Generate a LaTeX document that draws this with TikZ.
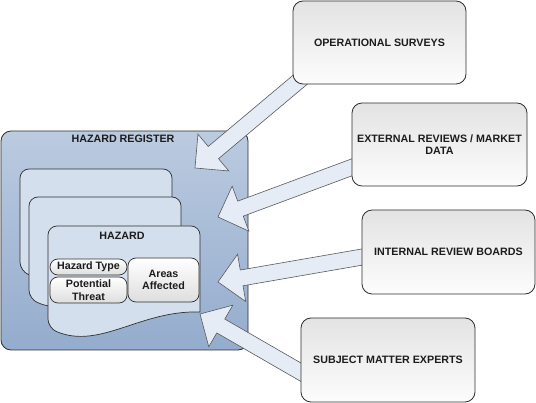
\documentclass[tikz,border=0pt]{standalone}
\usepackage{fontspec}
\setmainfont{Liberation Sans}
\usetikzlibrary{calc}
\definecolor{regtop}{HTML}{BBCBE0}
\definecolor{regbot}{HTML}{94ACCD}
\definecolor{cardfill}{HTML}{D4DFED}
\definecolor{arrfill}{HTML}{E5ECF6}
\definecolor{txt}{HTML}{1C1C1C}
\definecolor{edge}{HTML}{2E2E2E}
\pgfdeclarelayer{back}
\pgfdeclarelayer{mid}
\pgfsetlayers{back,mid,main}
\newcommand\blockarr[3]{%
  \coordinate (#1h) at ($(#3)!24pt!(#2)$);
  \draw[blockarrow] ($(#2)!8pt!90:(#3)$) -- ($(#1h)!8pt!90:(#3)$) -- ($(#1h)!24pt!90:(#3)$) -- (#3)
    -- ($(#1h)!24pt!-90:(#3)$) -- ($(#1h)!8pt!-90:(#3)$) -- ($(#2)!8pt!-90:(#3)$) -- cycle;}
\begin{document}
\begin{tikzpicture}[x=1pt,y=-1pt,
  lbl/.style={font=\fontsize{10.7}{12.5}\selectfont\bfseries, text=txt, align=center, inner sep=0pt},
  srcbox/.style={lbl, draw=edge, line width=0.8pt, rounded corners=10pt, top color=black!11, bottom color=black!1},
  regbox/.style={draw=edge, line width=0.8pt, rounded corners=10pt, top color=regtop, bottom color=regbot, inner sep=0pt},
  card/.style={draw=edge, line width=0.7pt, fill=cardfill},
  innerbox/.style={lbl, draw=edge, line width=0.7pt, rounded corners=8pt, top color=white, bottom color=black!13},
  blockarrow/.style={draw=black!65, line width=0.6pt, fill=arrfill, line join=miter}]
\useasboundingbox (0,0) rectangle (536,403);

% register and hazard cards
\begin{pgfonlayer}{back}
\node[regbox, minimum width=247pt, minimum height=219pt] (reg) at (124.5,240.5) {};
\node[lbl] (regt) at (123,139) {HAZARD REGISTER};
\begin{scope}[shift={(20,169)}]
\draw[card] (152,86) [rounded corners=9pt] -- (152,0) -- (0,0) -- (0,102) [sharp corners] .. controls (52,124) and (92,84) .. (152,86) -- cycle;
\end{scope}
\begin{scope}[shift={(29,197)}]
\draw[card] (152,86) [rounded corners=9pt] -- (152,0) -- (0,0) -- (0,102) [sharp corners] .. controls (52,124) and (92,84) .. (152,86) -- cycle;
\end{scope}
\begin{scope}[shift={(48,226)}]
\draw[card] (152,86) [rounded corners=9pt] -- (152,0) -- (0,0) -- (0,102) [sharp corners] .. controls (52,124) and (92,84) .. (152,86) -- cycle;
\end{scope}
\node[lbl] (haz) at (122,236) {HAZARD};
\node[innerbox, minimum width=77pt, minimum height=16pt] (htype) at (88.5,267) {Hazard Type};
\node[innerbox, minimum width=77pt, minimum height=26pt] (pthreat) at (88.5,290) {Potential\\Threat};
\node[innerbox, minimum width=71pt, minimum height=44pt] (areas) at (163.5,280) {Areas\\Affected};
\end{pgfonlayer}

% source boxes
\node[srcbox, minimum width=173pt, minimum height=83pt] (ops) at (379.5,42.5) {OPERATIONAL SURVEYS};
\node[srcbox, minimum width=175pt, minimum height=83pt] (ext) at (439.5,144.5) {EXTERNAL REVIEWS / MARKET\\DATA};
\node[srcbox, minimum width=173pt, minimum height=84pt] (int) at (448.5,252) {INTERNAL REVIEW BOARDS};
\node[srcbox, minimum width=174pt, minimum height=84pt] (sme) at (388,360) {SUBJECT MATTER EXPERTS};

% arrows
\coordinate (s1) at ($(ops.south west)+(27,-21)$);
\coordinate (s2) at ($(ext.west)+(20,15.5)$);
\coordinate (s3) at ($(int.west)+(18,2)$);
\coordinate (s4) at ($(sme.west)+(19,23)$);
\coordinate (t1) at (195,168);
\coordinate (t2) at (218,217);
\coordinate (t3) at (218,282);
\coordinate (t4) at (200,314);
\begin{pgfonlayer}{mid}
\blockarr{a1}{s1}{t1}
\blockarr{a2}{s2}{t2}
\blockarr{a3}{s3}{t3}
\blockarr{a4}{s4}{t4}
\end{pgfonlayer}
\end{tikzpicture}
\end{document}
